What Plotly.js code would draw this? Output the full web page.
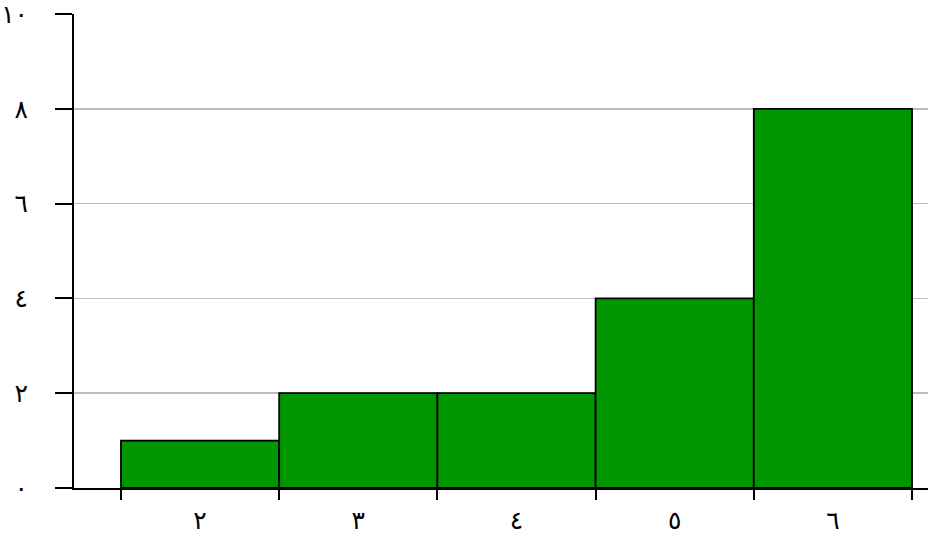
<!DOCTYPE html>
<html>
<head>
<meta charset="utf-8">
<script src="https://cdn.plot.ly/plotly-3.0.1.min.js"></script>
<style>html,body{margin:0;padding:0;background:#fff;}#chart{width:929px;height:541px;}</style>
</head>
<body>
<div id="chart"></div>
<script>
const categories = ['٢', '٣', '٤', '٥', '٦'];
const binCenters = [2, 3, 4, 5, 6];
const counts = [1, 2, 2, 4, 8];
const binEdges = [1.5, 2.5, 3.5, 4.5, 5.5, 6.5];
const yTickVals = [0, 2, 4, 6, 8, 10];
const yTickText = ['٠', '٢', '٤', '٦', '٨', '١٠'];

const trace = {
  type: 'bar',
  x: binCenters,
  y: counts,
  width: 1,
  marker: {color: '#009600', line: {color: '#000000', width: 1.8}},
  hoverinfo: 'x+y'
};

const layout = {
  width: 929, height: 541,
  margin: {l: 74, r: 1, t: 14, b: 53},
  paper_bgcolor: '#ffffff', plot_bgcolor: '#ffffff',
  showlegend: false,
  font: {family: 'DejaVu Sans, sans-serif', size: 25, color: '#000000'},
  xaxis: {
    range: [1.203, 6.601],
    tickmode: 'array', tickvals: binCenters, ticktext: categories,
    ticks: '', ticklabelstandoff: 9, ticklabeloverflow: 'allow',
    showline: true, linecolor: '#000000', linewidth: 2,
    showgrid: false, zeroline: false,
    minor: {tickmode: 'array', tickvals: binEdges, ticks: 'outside', ticklen: 10, tickwidth: 2, tickcolor: '#000000', showgrid: false}
  },
  yaxis: {
    range: [0, 10],
    tickmode: 'array', tickvals: yTickVals, ticktext: yTickText,
    ticks: 'outside', ticklen: 17, tickwidth: 2, tickcolor: '#000000',
    ticklabelstandoff: 22, ticklabeloverflow: 'allow',
    showline: true, linecolor: '#000000', linewidth: 2,
    showgrid: true, gridcolor: '#bebebe', gridwidth: 1.5,
    zeroline: false
  },
  bargap: 0
};

Plotly.newPlot('chart', [trace], layout, {displayModeBar: false, staticPlot: true});
</script>
</body>
</html>
